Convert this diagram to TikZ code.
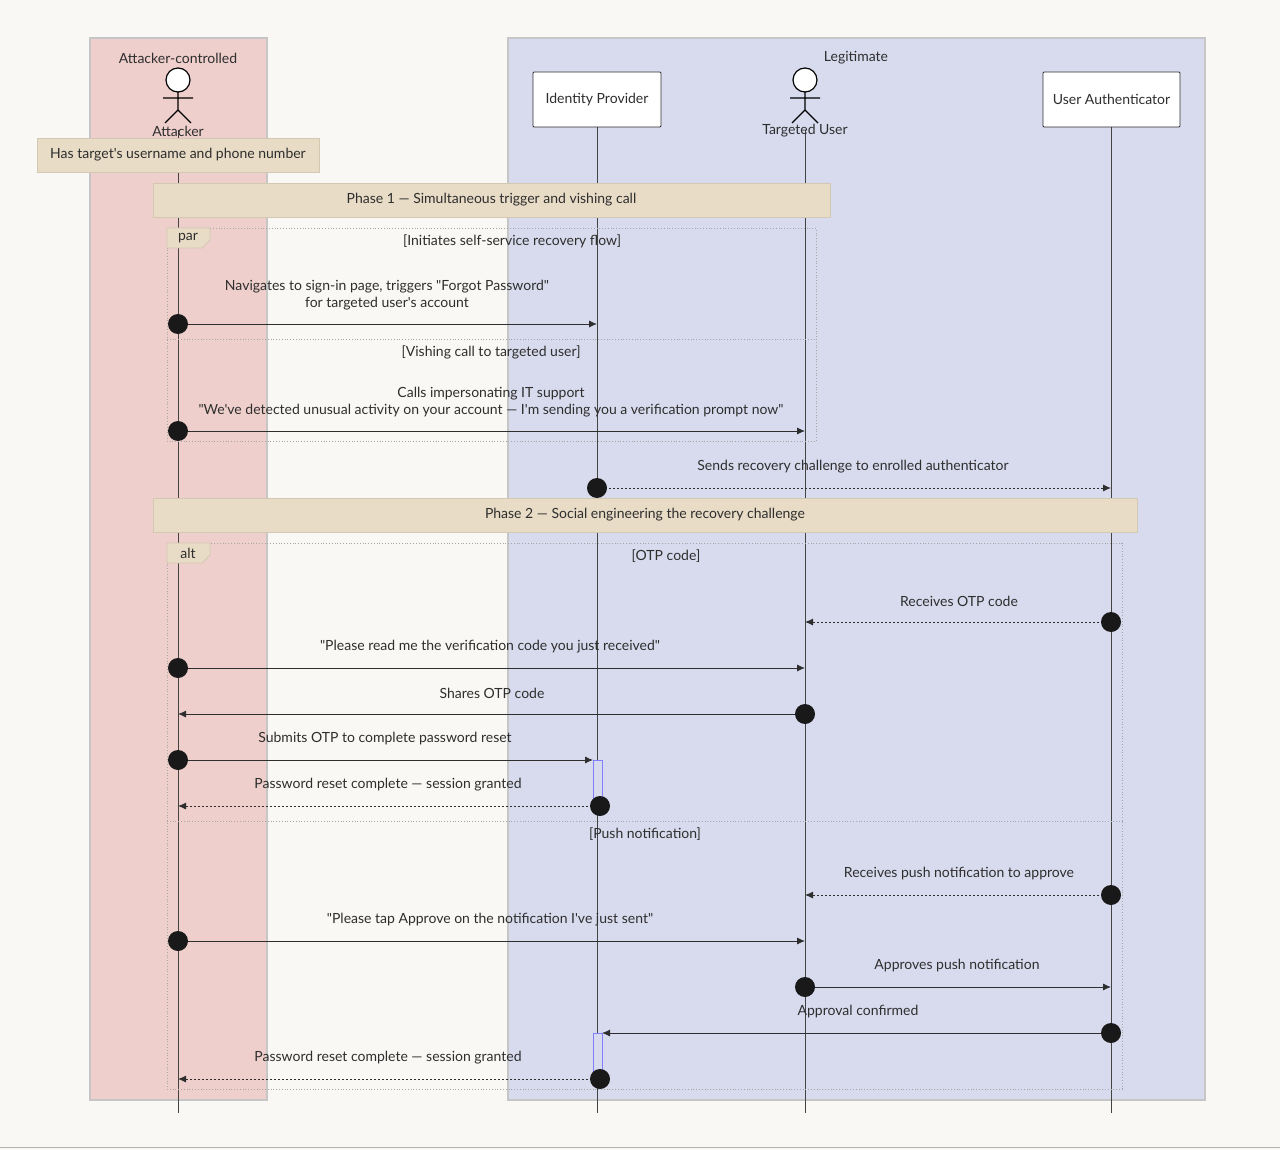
\documentclass[tikz,border=0pt]{standalone}
\usepackage{fontspec}
\setmainfont{Lato}[Ligatures=TeXOff]
\usetikzlibrary{arrows.meta}
\definecolor{bg}{HTML}{F9F8F5}
\definecolor{redz}{HTML}{EECFCB}
\definecolor{bluez}{HTML}{D8DBEE}
\definecolor{notef}{HTML}{E8DCC6}
\definecolor{noted}{HTML}{D3C8B2}
\definecolor{txt}{HTML}{2E2E2E}
\begin{document}
\begin{tikzpicture}[x=1pt,y=-1pt,font=\fontsize{14}{17}\selectfont,text=txt,
 life/.style={draw=txt!90,line width=0.9pt},
 msg/.style={draw=txt,line width=0.9pt,-{Latex[length=8pt,width=7pt]}},
 rmsg/.style={msg,dash pattern=on 2pt off 2pt},
 dot/.style={circle,fill=black!90,minimum size=20pt,inner sep=0},
 lbl/.style={align=center,inner sep=0},
 part/.style={draw=txt,fill=white,line width=0.9pt,minimum width=128pt,minimum height=55pt,rounded corners=1pt},
 note/.style={draw=noted,fill=notef,line width=0.9pt},
 frame/.style={draw=gray!70,dotted,line width=0.8pt},
 act/.style={draw=blue!50,fill=bluez,line width=0.9pt}]
\fill[bg] (0,0) rectangle (1280,1150);
\useasboundingbox (0,0) rectangle (1280,1150);
\draw[gray!60,line width=1pt] (0,1147) -- (1280,1147);
\filldraw[fill=redz,draw=gray!45,line width=1.5pt] (90,38) rectangle (267,1100);
\filldraw[fill=bluez,draw=gray!45,line width=1.5pt] (508,38) rectangle (1205,1100);
\node[lbl] (zr) at (178,58) {Attacker-controlled};
\node[lbl] (zb) at (856,58) {Legitimate};
% lifelines
\coordinate (a0) at (178,130); \coordinate (a1) at (178,1113);
\coordinate (i0) at (597,127); \coordinate (i1) at (597,1113);
\coordinate (u0) at (805,130); \coordinate (u1) at (805,1113);
\coordinate (t0) at (1111,127); \coordinate (t1) at (1111,1113);
\draw[life] (a0)--(a1); \draw[life] (i0)--(i1); \draw[life] (u0)--(u1); \draw[life] (t0)--(t1);
% actors
\foreach \x/\n in {178/Attacker,805/Targeted User}{
 \draw[fill=white,line width=1.2pt] (\x,80) circle (12);
 \draw[line width=1.2pt] (\x,92)--(\x,110) (\x-15,98)--(\x+15,98) (\x-13,123)--(\x,110)--(\x+13,123);
 \node[lbl] at (\x,131) {\n};}
\node[part] (idp) at (597,99.5) {Identity Provider};
\node[part,minimum width=137pt] (ua) at (1111.5,99.5) {User Authenticator};
\node[note,minimum width=282pt,minimum height=34pt] (n0) at (178,155) {Has target's username and phone number};
% phase 1
\node[note,minimum width=677pt,minimum height=34pt] (p1) at (491.5,200) {Phase 1 — Simultaneous trigger and vishing call};
\draw[frame] (167,228) rectangle (816,441);
\draw[frame] (167,339) -- (816,339);
\filldraw[fill=notef,draw=noted,line width=0.8pt] (167,228)--(210,228)--(210,240)--(202,248)--(167,248)--cycle;
\node[lbl] at (188,238) {par};
\node[lbl] at (512,241) {[Initiates self-service recovery flow]};
\node[lbl] at (491,352) {[Vishing call to targeted user]};
\coordinate (m1a) at (178,324); \coordinate (m1b) at (597,324);
\draw[msg] (m1a)--(m1b); \node[dot] at (m1a) {};
\node[lbl] at (387,295) {Navigates to sign-in page, triggers "Forgot Password"\\for targeted user's account};
\coordinate (m2a) at (178,431); \coordinate (m2b) at (805,431);
\draw[msg] (m2a)--(m2b); \node[dot] at (m2a) {};
\node[lbl] at (491,402) {Calls impersonating IT support\\"We've detected unusual activity on your account — I'm sending you a verification prompt now"};
\coordinate (m3a) at (597,488); \coordinate (m3b) at (1111,488);
\draw[rmsg] (m3a)--(m3b); \node[dot] at (m3a) {};
\node[lbl] at (853,467) {Sends recovery challenge to enrolled authenticator};
% phase 2
\node[note,minimum width=984pt,minimum height=34pt] (p2) at (645,515) {Phase 2 — Social engineering the recovery challenge};
\draw[frame] (167,543) rectangle (1122,1089);
\draw[frame] (167,821) -- (1122,821);
\filldraw[fill=notef,draw=noted,line width=0.8pt] (167,543)--(210,543)--(210,555)--(202,563)--(167,563)--cycle;
\node[lbl] at (188,553) {alt};
\node[lbl] at (666,556) {[OTP code]};
\node[lbl] at (645,834) {[Push notification]};
\draw[act] (593,760) rectangle (602,806);
\draw[act] (593,1033) rectangle (602,1079);
\newcommand\mymsg[7]{\coordinate (#1a) at (#2,#4); \coordinate (#1b) at (#3,#4);
 \draw[#5] (#1a)--(#1b); \node[dot] at (#1a) {}; \node[lbl] at (#6,#4-21) {#7};}
\mymsg{m4}{1111}{805}{622}{rmsg}{959}{Receives OTP code}
\mymsg{m5}{178}{805}{668}{msg}{490}{"Please read me the verification code you just received"}
\mymsg{m6}{805}{178}{714}{msg}{492}{Shares OTP code}
\mymsg{m7}{178}{593}{760}{msg}{385}{Submits OTP to complete password reset}
\mymsg{m8}{600}{178}{806}{rmsg}{388}{Password reset complete — session granted}
\mymsg{m9}{1111}{805}{895}{rmsg}{959}{Receives push notification to approve}
\mymsg{m10}{178}{805}{941}{msg}{490}{"Please tap Approve on the notification I've just sent"}
\mymsg{m11}{805}{1111}{987}{msg}{957}{Approves push notification}
\mymsg{m12}{1111}{602}{1033}{msg}{858}{Approval confirmed}
\mymsg{m13}{600}{178}{1079}{rmsg}{388}{Password reset complete — session granted}
\end{tikzpicture}
\end{document}
